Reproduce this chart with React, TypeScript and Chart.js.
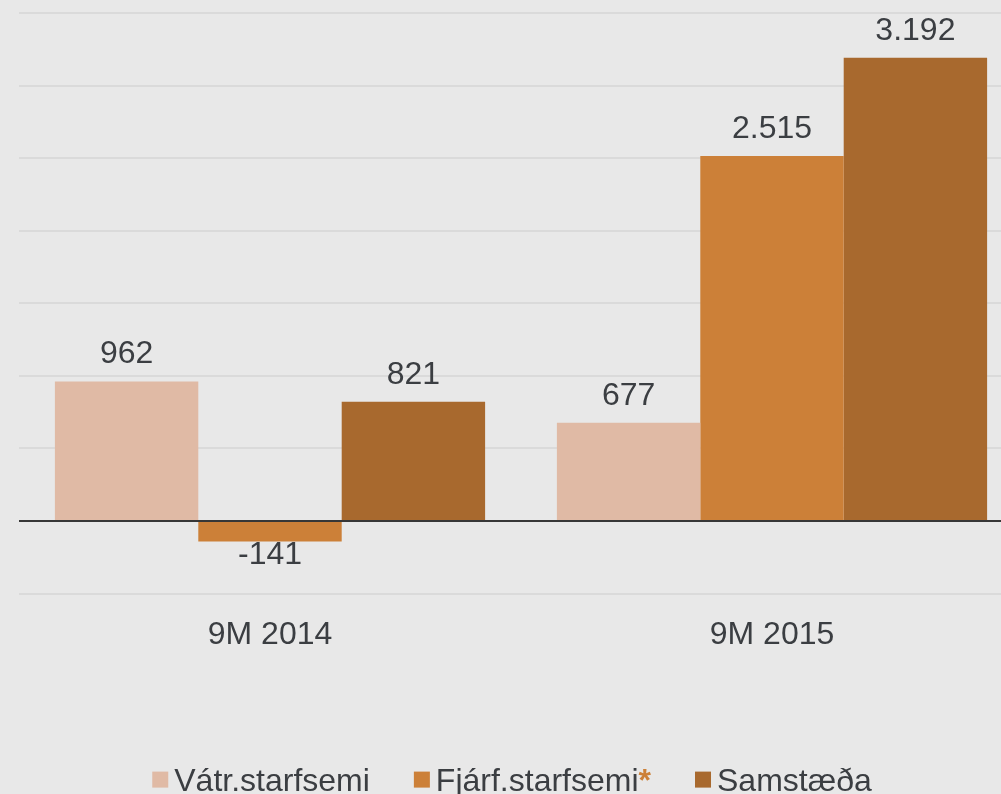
import React, { useEffect, useRef } from "react";
import { Chart, registerables } from "chart.js";

Chart.register(...registerables);

const categories = ["9M 2014", "9M 2015"];
const seriesNames = ["Vátr.starfsemi", "Fjárf.starfsemi", "Samstæða"];
const vatrValues = [962, 677];
const fjarfValues = [-141, 2515];
const samstaedaValues = [821, 3192];
const seriesColors = ["#e0baa5", "#cc8038", "#a8692e"];
const legendSuffix = ["", "*", ""];

const FONT = "'Liberation Sans', Arial, sans-serif";
const TEXT = "#3b3e42";
const BG = "#e8e8e8";

function fmt(v: number): string {
  const s = Math.abs(v).toString().replace(/\B(?=(\d{3})+(?!\d))/g, ".");
  return (v < 0 ? "-" : "") + s;
}

const overlayPlugin = {
  id: "overlay",
  beforeDraw(chart: any) {
    const { ctx, width, height } = chart;
    ctx.save();
    ctx.fillStyle = BG;
    ctx.fillRect(0, 0, width, height);
    ctx.restore();
  },
  afterDatasetsDraw(chart: any) {
    const { ctx, chartArea } = chart;
    const y = chart.scales.y;
    const y0 = y.getPixelForValue(0);
    ctx.save();
    ctx.strokeStyle = "#000000";
    ctx.lineWidth = 1.5;
    ctx.beginPath();
    ctx.moveTo(chartArea.left, y0);
    ctx.lineTo(chartArea.right, y0);
    ctx.stroke();
    ctx.font = `32px ${FONT}`;
    ctx.fillStyle = TEXT;
    ctx.textAlign = "center";
    ctx.textBaseline = "alphabetic";
    chart.data.datasets.forEach((ds: any, di: number) => {
      const meta = chart.getDatasetMeta(di);
      meta.data.forEach((bar: any, i: number) => {
        const v = ds.data[i];
        if (v >= 0) {
          ctx.fillText(fmt(v), bar.x, bar.y - 18);
        } else {
          ctx.fillText(fmt(v), bar.x, bar.y + 23);
        }
      });
    });
    ctx.restore();
  },
  afterDraw(chart: any) {
    const { ctx, width, chartArea } = chart;
    ctx.save();
    ctx.textBaseline = "alphabetic";
    ctx.textAlign = "left";
    const box = 16;
    const gapBox = 6;
    const gapItem = 44;
    const normal = `32px ${FONT}`;
    const bold = `bold 32px ${FONT}`;
    const widths = seriesNames.map((n, i) => {
      ctx.font = normal;
      let w = ctx.measureText(n).width;
      if (legendSuffix[i]) {
        ctx.font = bold;
        w += ctx.measureText(legendSuffix[i]).width;
      }
      return w;
    });
    const total =
      widths.reduce((a, b) => a + b, 0) + seriesNames.length * (box + gapBox) + gapItem * (seriesNames.length - 1);
    let x = width / 2 - total / 2;
    const baseline = chartArea.bottom + 197;
    seriesNames.forEach((n, i) => {
      ctx.fillStyle = seriesColors[i];
      ctx.fillRect(x, baseline - 19, box, box);
      x += box + gapBox;
      ctx.font = normal;
      ctx.fillStyle = TEXT;
      ctx.fillText(n, x, baseline);
      const w = ctx.measureText(n).width;
      if (legendSuffix[i]) {
        ctx.font = bold;
        ctx.fillStyle = seriesColors[1];
        ctx.fillText(legendSuffix[i], x + w, baseline);
      }
      x += widths[i] + gapItem;
    });
    ctx.restore();
  },
};

export default function App() {
  const ref = useRef<HTMLCanvasElement>(null);
  useEffect(() => {
    if (!ref.current) return;
    const chart = new Chart(ref.current, {
      type: "bar",
      data: {
        labels: categories,
        datasets: [
          { label: seriesNames[0], data: vatrValues, backgroundColor: seriesColors[0] },
          { label: seriesNames[1], data: fjarfValues, backgroundColor: seriesColors[1] },
          { label: seriesNames[2], data: samstaedaValues, backgroundColor: seriesColors[2] },
        ],
      },
      plugins: [overlayPlugin],
      options: {
        animation: false,
        responsive: true,
        maintainAspectRatio: false,
        datasets: { bar: { categoryPercentage: 0.857, barPercentage: 1.0 } },
        layout: { padding: { top: 13, left: 19, right: 1, bottom: 118 } },
        plugins: { legend: { display: false }, tooltip: { enabled: false } },
        scales: {
          x: {
            grid: { display: false, drawTicks: false },
            border: { display: false },
            ticks: { color: TEXT, font: { family: FONT, size: 32 }, padding: 22 },
          },
          y: {
            min: -500,
            max: 3500,
            ticks: { display: false, stepSize: 500 },
            border: { display: false },
            grid: { color: "#dadada", lineWidth: 2, drawTicks: false },
          },
        },
      },
    });
    return () => chart.destroy();
  }, []);
  return (
    <div style={{ position: "fixed", left: 0, top: 0, width: 1001, height: 794, overflow: "hidden", background: BG }}>
      <div style={{ position: "relative", width: 1024, height: 794 }}>
        <canvas ref={ref} />
      </div>
    </div>
  );
}
